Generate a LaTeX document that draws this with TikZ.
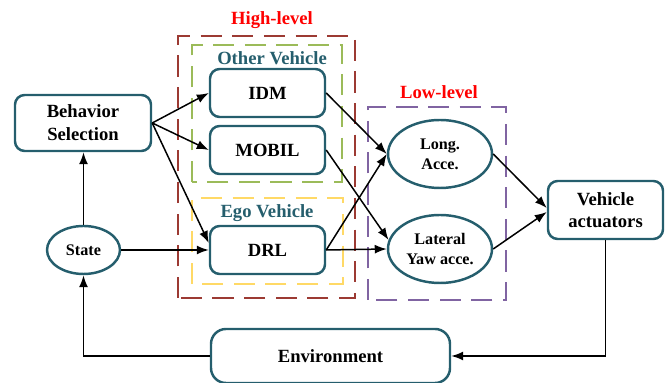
\documentclass[tikz,border=0pt]{standalone}
\usepackage{fontspec}
\setmainfont{Liberation Serif}
\usepackage{tikz}
\usetikzlibrary{arrows.meta,positioning,calc,shapes.geometric}
\definecolor{boxline}{HTML}{255E6D}
\definecolor{highred}{HTML}{9C3A33}
\definecolor{othergreen}{HTML}{9BBB59}
\definecolor{egoyellow}{HTML}{FFD966}
\definecolor{lowpurple}{HTML}{8064A2}
\newcommand{\lblfont}{\fontsize{10.6}{13}\selectfont\bfseries}
\newcommand{\smlfont}{\fontsize{9.2}{11.3}\selectfont\bfseries}

\begin{document}
\begin{tikzpicture}[
  blk/.style={draw=boxline,line width=1.4pt,rounded corners=5.5pt,minimum width=2.3cm,
              minimum height=0.96cm,align=center,font=\lblfont},
  ell/.style={draw=boxline,line width=1.4pt,ellipse,inner sep=0pt,minimum width=2.08cm,
              minimum height=1.36cm,align=center,font=\smlfont},
  arr/.style={-{Latex[length=2.4mm,width=1.8mm]},line width=0.85pt},
  grp/.style={line width=1.4pt,dash pattern=on 12pt off 6pt},
  ttl/.style={font=\lblfont}
]
\useasboundingbox (0,0) rectangle (13.3,7.66);

% groups
\draw[grp,highred] (3.56,1.70) rectangle (7.10,6.94);
\draw[grp,othergreen] (3.84,4.02) rectangle (6.84,6.76);
\draw[grp,egoyellow] (3.84,1.98) rectangle (6.86,3.70);
\draw[grp,lowpurple] (7.36,1.66) rectangle (10.12,5.52);
\node[ttl,red] (hightxt) at (5.44,7.26) {High-level};
\node[ttl,boxline] (othertxt) at (5.44,6.49) {Other Vehicle};
\node[ttl,boxline] (egotxt) at (5.34,3.40) {Ego Vehicle};
\node[ttl,red] (lowtxt) at (8.78,5.82) {Low-level};

% nodes
\node[blk,minimum width=2.72cm,minimum height=1.12cm] (bs) at (1.66,5.20) {Behavior\\Selection};
\node[blk] (idm) at (5.35,5.80) {IDM};
\node[blk] (mobil) at (5.35,4.66) {MOBIL};
\node[blk] (drl) at (5.35,2.66) {DRL};
\node[ell] (long) at (8.80,4.58) {Long.\\Acce.};
\node[ell] (lat) at (8.80,2.68) {Lateral\\Yaw acce.};
\node[blk,minimum height=1.16cm,font=\fontsize{10.6}{12.5}\selectfont\bfseries] (va) at (12.11,3.46) {Vehicle\\actuators};
\node[ell,minimum width=1.46cm,minimum height=0.96cm] (state) at (1.67,2.66) {State};
\node[blk,rounded corners=8.5pt,minimum width=4.78cm,minimum height=1.08cm] (env) at (6.61,0.54) {Environment};

% arrows
\draw[arr] (state.north) -- (state.north |- bs.south);
\draw[arr] (bs.east) -- (idm.west);
\draw[arr] (bs.east) -- (mobil.west);
\draw[arr] (bs.east) -- ([yshift=0.14cm]drl.west);
\draw[arr] (state.east) -- (drl.west);
\draw[arr] (idm.east) -- (long.west);
\draw[arr] (mobil.east) -- (lat.170);
\draw[arr] (drl.east) -- (long.west);
\draw[arr] (drl.east) -- (lat.west);
\draw[arr] (long.east) -- ([yshift=0.04cm]va.west);
\draw[arr] (lat.east) -- ([yshift=-0.04cm]va.west);
\draw[arr] (va.south) |- (env.east);
\draw[arr] (env.west) -| (state.south);
\end{tikzpicture}
\end{document}
